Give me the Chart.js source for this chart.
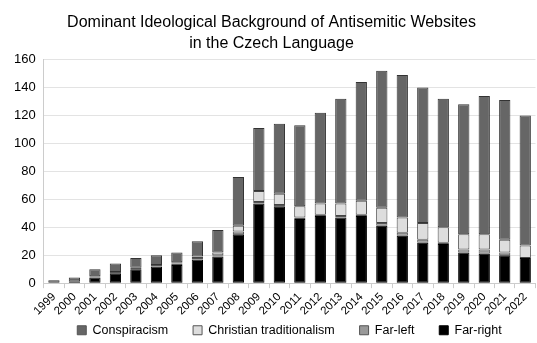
<!DOCTYPE html>
<html>
<head>
<meta charset="utf-8">
<script src="https://cdn.jsdelivr.net/npm/chart.js@4"></script>
<style>
  body { margin: 0; background: #fff; }
  #wrap { width: 537px; height: 343px; }
</style>
</head>
<body>
<div id="wrap"><canvas id="chart"></canvas></div>
<script>
var years = ['1999', '2000', '2001', '2002', '2003', '2004', '2005', '2006', '2007', '2008', '2009', '2010',
             '2011', '2012', '2013', '2014', '2015', '2016', '2017', '2018', '2019', '2020', '2021', '2022'];
var farRight     = [0, 1, 4, 7, 10, 12, 13, 17, 19, 35, 57, 55, 46, 48, 47, 48, 41, 34, 29, 28, 22, 21, 20, 18];
var farLeft      = [0, 0, 1, 1, 1, 1, 1, 1, 1, 2, 1, 1, 1, 1, 1, 1, 2, 2, 2, 1, 2, 3, 2, 0];
var christian    = [0, 0, 0, 0, 0, 0, 1, 1, 2, 4, 8, 8, 8, 8, 9, 10, 11, 11, 12, 11, 11, 11, 9, 9];
var conspiracism = [2, 3, 5, 6, 7, 7, 7, 11, 16, 35, 45, 50, 58, 65, 75, 85, 98, 102, 97, 92, 93, 99, 100, 93];

var ctx = document.getElementById('chart');

// extra room after each legend entry (the legend is drawn right-aligned)
var legendGap = '\u00a0\u00a0\u00a0\u00a0\u00a0\u00a0';
var legendTail = '\u00a0\u00a0\u00a0\u00a0\u00a0\u00a0\u00a0\u00a0\u00a0';

var myChart = new Chart(ctx, {
    type: 'bar',
    data: {
        labels: years,
        datasets: [
            {
                label: 'Far-right',
                data: farRight,
                backgroundColor: '#000000',
                borderColor: '#000000',
                borderWidth: 1
            },
            {
                label: 'Far-left',
                data: farLeft,
                backgroundColor: '#999999',
                borderColor: '#555555',
                borderWidth: 1
            },
            {
                label: 'Christian traditionalism',
                data: christian,
                backgroundColor: '#dddddd',
                borderColor: '#444444',
                borderWidth: 1
            },
            {
                label: 'Conspiracism',
                data: conspiracism,
                backgroundColor: '#666666',
                borderColor: '#333333',
                borderWidth: 1
            }
        ]
    },
    options: {
        responsive: true,
        maintainAspectRatio: false,
        animation: false,
        layout: { padding: { left: 6, right: 0, top: 12, bottom: 0 } },
        datasets: {
            bar: { categoryPercentage: 1, barPercentage: 0.55, borderSkipped: false }
        },
        plugins: {
            title: {
                display: true,
                text: ['Dominant Ideological Background of Antisemitic Websites', 'in the Czech Language'],
                color: '#000',
                font: { family: 'Liberation Sans', size: 16, weight: 'normal', lineHeight: 1.3 },
                padding: { top: 0, bottom: 6 }
            },
            legend: {
                position: 'bottom',
                align: 'end',
                reverse: true,
                maxHeight: 23,
                labels: {
                    color: '#000',
                    font: { family: 'Liberation Sans', size: 12.5 },
                    boxWidth: 9,
                    boxHeight: 9,
                    padding: 4,
                    generateLabels: function (chart) {
                        var items = Chart.defaults.plugins.legend.labels.generateLabels(chart);
                        items.forEach(function (item) {
                            item.text += (item.datasetIndex === 0 ? legendTail : legendGap);
                            item.strokeStyle = item.fillStyle === '#000000' ? '#000000' : '#555555';
                        });
                        return items;
                    }
                }
            },
            tooltip: { enabled: false }
        },
        scales: {
            x: {
                stacked: true,
                grid: { drawOnChartArea: false, drawTicks: true, tickLength: 5, color: '#cccccc' },
                border: { color: '#cccccc' },
                ticks: {
                    color: '#000',
                    font: { family: 'Liberation Sans', size: 11.5 },
                    maxRotation: 45,
                    minRotation: 45,
                    autoSkip: false,
                    padding: 2
                }
            },
            y: {
                stacked: true,
                min: 0,
                max: 160,
                grid: { color: '#e3e3e3', drawTicks: false },
                border: { color: '#cccccc' },
                ticks: {
                    stepSize: 20,
                    color: '#000',
                    font: { family: 'Liberation Sans', size: 13 },
                    padding: 8
                }
            }
        }
    }
});
</script>
</body>
</html>
